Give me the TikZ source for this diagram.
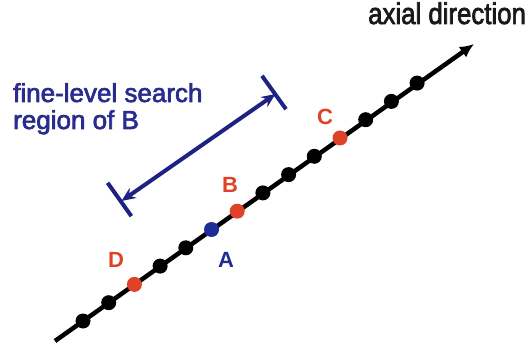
\documentclass[tikz,border=0pt]{standalone}
\usepackage{fontspec}
\setmainfont{Liberation Sans}
\newfontfamily\heavy[FakeBold=2.5]{Liberation Sans}
\usepackage{graphicx}
\usetikzlibrary{arrows.meta}
\definecolor{rd}{RGB}{222,66,40}
\definecolor{bl}{RGB}{32,44,150}
\definecolor{navy}{RGB}{30,34,130}
\definecolor{txtblue}{RGB}{40,44,140}
\tikzset{
  bead/.style={circle,fill=black,minimum size=15pt,inner sep=0pt},
  redbead/.style={bead,fill=rd},
  bluebead/.style={bead,fill=bl},
  lbl/.style={font=\bfseries\fontsize{22}{24}\selectfont,inner sep=0pt},
  axisline/.style={line width=4.5pt,-{Latex[length=14pt,width=13pt]}},
  dimline/.style={line width=4pt,navy,{Stealth[length=14pt,width=12pt]}-{Stealth[length=14pt,width=12pt]}},
  tick/.style={line width=4pt,navy},
}
\begin{document}
\begin{tikzpicture}[x=1pt,y=-1pt]
\useasboundingbox (0,0) rectangle (532,347);
% axis
\coordinate (s) at (55,341);
\coordinate (e) at (474,44);
\draw[axisline] (s) -- (e);
% beads
\foreach \i in {0,...,13}{
  \pgfmathsetmacro{\xx}{83+25.7*\i}
  \pgfmathsetmacro{\yy}{321-18.3*\i}
  \ifnum\i=2
    \node[redbead] (d\i) at (\xx,\yy) {};
  \else\ifnum\i=5
    \node[bluebead] (d\i) at (\xx,\yy) {};
  \else\ifnum\i=6
    \node[redbead] (d\i) at (\xx,\yy) {};
  \else\ifnum\i=10
    \node[redbead] (d\i) at (\xx,\yy) {};
  \else
    \node[bead] (d\i) at (\xx,\yy) {};
  \fi\fi\fi\fi
}
% labels
\node[lbl,text=rd] (D) at (116,260) {D};
\node[lbl,text=bl] (A) at (226,260) {A};
\node[lbl,text=rd] (B) at (230,185) {B};
\node[lbl,text=rd] (C) at (325,117) {C};
% axial direction
\node[anchor=base west,inner sep=0pt,text=black!90,font=\heavy\fontsize{30}{32}\selectfont] (ax) at (368,24) {\scalebox{0.86}[1]{axial direction}};
% search region
\coordinate (l1) at (107.6,182.8);
\coordinate (l2) at (131.4,216.2);
\coordinate (u1) at (262,75.8);
\coordinate (u2) at (286,109.2);
\draw[tick] (l1) -- (l2);
\draw[tick] (u1) -- (u2);
\coordinate (lc) at (121.5,201);
\coordinate (uc) at (275.5,94);
\draw[dimline] (lc) -- (uc);
\node[anchor=base west,inner sep=0pt,text=txtblue,font=\heavy\fontsize{26}{28}\selectfont] (t1) at (13,102) {fine-level search};
\node[anchor=base west,inner sep=0pt,text=txtblue,font=\heavy\fontsize{26}{28}\selectfont] (t2) at (13,129) {region of B};
\end{tikzpicture}
\end{document}
